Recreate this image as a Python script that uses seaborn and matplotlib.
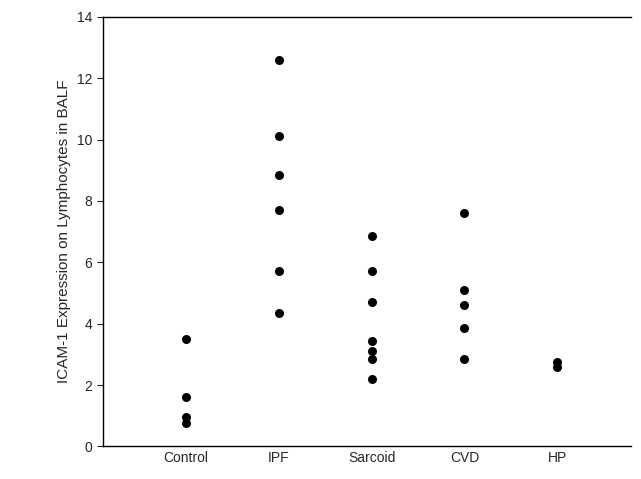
import matplotlib
matplotlib.use("Agg")
import matplotlib.pyplot as plt
import seaborn as sns
import pandas as pd

groups = ["Control", "IPF", "Sarcoid", "CVD", "HP"]
control = [3.5, 1.6, 0.95, 0.75]
ipf = [12.6, 10.1, 8.85, 7.7, 5.7, 4.35]
sarcoid = [6.85, 5.7, 4.7, 3.45, 3.1, 2.85, 2.2]
cvd = [7.6, 5.1, 4.6, 3.85, 2.85]
hp = [2.75, 2.6]

rows = []
for g, vals in zip(groups, [control, ipf, sarcoid, cvd, hp]):
    rows += [(g, v) for v in vals]
df = pd.DataFrame(rows, columns=["group", "value"])

sns.set_style("white")
plt.rcParams["font.family"] = ["Liberation Sans", "DejaVu Sans"]
fig, ax = plt.subplots(figsize=(6.41, 4.79), dpi=100)
sns.stripplot(data=df, x="group", y="value", order=groups, jitter=False,
              color="black", size=6.5, ax=ax)
ax.set_ylim(0, 14)
ax.set_xlim(-0.9, 4.8)
ax.set_yticks(range(0, 15, 2))
ax.set_xlabel("")
ax.set_ylabel("ICAM-1 Expression on Lymphocytes in BALF", fontsize=11)
ax.tick_params(axis="y", length=4, direction="out", left=True, labelsize=10)
ax.tick_params(axis="x", length=0, labelsize=10)
for s in ["left", "bottom", "top"]:
    ax.spines[s].set_color("black")
    ax.spines[s].set_linewidth(1)
ax.spines["right"].set_visible(False)
fig.subplots_adjust(left=0.16, right=0.985, top=0.965, bottom=0.068)
fig.savefig("out.png", dpi=100)
